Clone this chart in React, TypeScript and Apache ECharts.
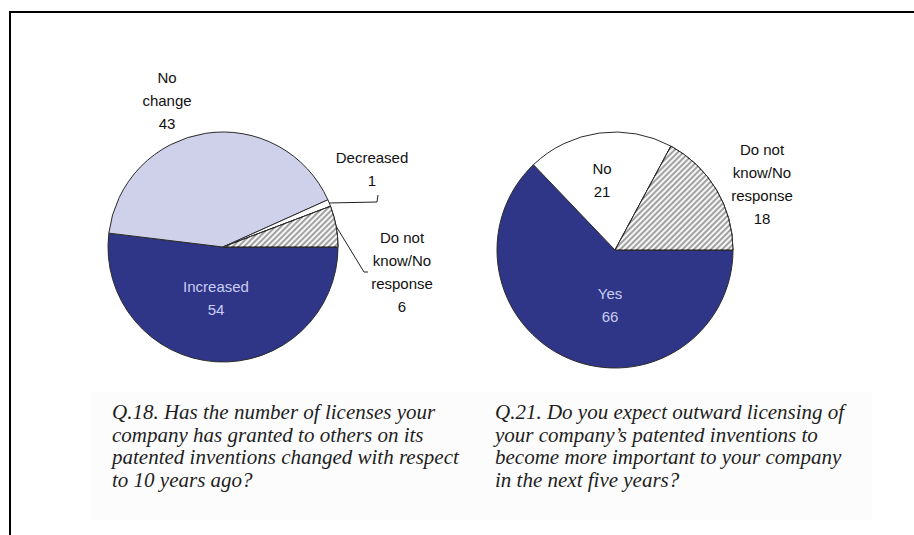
import React, { useEffect, useRef } from "react";
import * as echarts from "echarts";

// ---- data ----
const leftNames = ["Increased", "No change", "Decreased", "Do not know/No response"];
const leftLabels = ["Increased", "No\nchange", "Decreased", "Do not\nknow/No\nresponse"];
const leftValues = [54, 43, 1, 6];

const rightNames = ["Yes", "No", "Do not know/No response"];
const rightLabels = ["Yes", "No", "Do not\nknow/No\nresponse"];
const rightValues = [66, 21, 18];

const leftCaption = [
  "Q.18. Has the number of licenses your",
  "company has granted to others on its",
  "patented inventions changed with respect",
  "to 10 years ago?",
];
const rightCaption = [
  "Q.21. Do you expect outward licensing of",
  "your company\u2019s patented inventions to",
  "become more important to your company",
  "in the next five years?",
];

// ---- styles / layout ----
const DARK = "#2f3688";
const LAVENDER = "#cfd1ea";
const INSIDE_TEXT = "#c9cdf0";
const TEXT = "#111111";

const hatch = {
  symbol: "rect",
  symbolSize: 1,
  color: "rgba(255,255,255,0.9)",
  dashArrayX: [1, 0],
  dashArrayY: [2, 2],
  rotation: -Math.PI / 4,
};

const leftStyles = [
  { color: DARK, decal: "none" },
  { color: LAVENDER, decal: "none" },
  { color: "#ffffff", decal: "none" },
  { color: "#a2a2a2", decal: hatch },
];
const rightStyles = [
  { color: DARK, decal: "none" },
  { color: "#ffffff", decal: "none" },
  { color: "#a2a2a2", decal: hatch },
];

const leftLabelPos = [
  [216, 298],
  [167, 100],
  [372, 169],
  [402, 272],
];
const rightLabelPos = [
  [610, 305],
  [602, 180],
  [762, 184],
];

const labelFont = {
  fontFamily: "Liberation Sans, Arial, sans-serif",
  fontSize: 15,
  lineHeight: 23,
};

export default function App() {
  const ref = useRef<HTMLDivElement>(null);

  useEffect(() => {
    if (!ref.current) return;
    const chart = echarts.init(ref.current, undefined, { renderer: "svg" });

    const leftData = leftNames.map((name, i) => ({
      name,
      value: leftValues[i],
      itemStyle: leftStyles[i],
      label: {
        position: i === 0 ? "inside" : "outside",
        color: i === 0 ? INSIDE_TEXT : TEXT,
      },
      labelLine: { show: i === 2 || i === 3 },
    }));

    const rightData = rightNames.map((name, i) => ({
      name,
      value: rightValues[i],
      itemStyle: rightStyles[i],
      label: {
        position: i === 2 ? "outside" : "inside",
        color: i === 0 ? INSIDE_TEXT : TEXT,
      },
      labelLine: { show: false },
    }));

    const captionStyle = {
      fontFamily: "Liberation Serif, Times New Roman, serif",
      fontStyle: "italic",
      fontSize: 21,
      lineHeight: 22.5,
      fill: "#1e1e1e",
    };

    const option: any = {
      animation: false,
      backgroundColor: "#ffffff",
      graphic: [
        {
          type: "rect",
          z: -10,
          shape: { x: 90, y: 392, width: 782, height: 128 },
          style: { fill: "#fcfcfc" },
          silent: true,
        },
        {
          type: "line",
          shape: { x1: 10, y1: 12, x2: 914, y2: 12 },
          style: { stroke: "#000", lineWidth: 2 },
        },
        {
          type: "line",
          shape: { x1: 10, y1: 11, x2: 10, y2: 535 },
          style: { stroke: "#000", lineWidth: 2 },
        },
        {
          type: "text",
          x: 112,
          y: 401,
          style: { ...captionStyle, text: leftCaption.join("\n"), verticalAlign: "top", align: "left" },
        },
        {
          type: "text",
          x: 495,
          y: 401,
          style: { ...captionStyle, text: rightCaption.join("\n"), verticalAlign: "top", align: "left" },
        },
      ],
      series: [
        {
          type: "pie",
          center: [223, 247],
          radius: 115,
          startAngle: 0,
          clockwise: true,
          avoidLabelOverlap: false,
          itemStyle: { borderColor: "#2a2a2a", borderWidth: 1 },
          label: {
            ...labelFont,
            formatter: (p: any) => `${leftLabels[p.dataIndex]}\n${p.value}`,
          },
          labelLine: { lineStyle: { color: "#222", width: 1 } },
          labelLayout: (p: any) => {
            const [x, y] = leftLabelPos[p.dataIndex];
            const res: any = { x, y, align: "center", verticalAlign: "middle" };
            if (p.labelLinePoints && p.dataIndex === 2) {
              res.labelLinePoints = [p.labelLinePoints[0], [377, 202], [378, 195]];
            }
            if (p.labelLinePoints && p.dataIndex === 3) {
              res.labelLinePoints = [p.labelLinePoints[0], [364, 272], [368, 272]];
            }
            return res;
          },
          emphasis: { disabled: true },
          data: leftData,
        },
        {
          type: "pie",
          center: [615, 250],
          radius: 118,
          startAngle: 0,
          clockwise: true,
          avoidLabelOverlap: false,
          itemStyle: { borderColor: "#2a2a2a", borderWidth: 1 },
          label: {
            ...labelFont,
            formatter: (p: any) => `${rightLabels[p.dataIndex]}\n${p.value}`,
          },
          labelLayout: (p: any) => {
            const [x, y] = rightLabelPos[p.dataIndex];
            return { x, y, align: "center", verticalAlign: "middle" };
          },
          emphasis: { disabled: true },
          data: rightData,
        },
      ],
    };

    chart.setOption(option);
    return () => chart.dispose();
  }, []);

  return (
    <div
      ref={ref}
      style={{ position: "fixed", left: 0, top: 0, width: 914, height: 535 }}
    />
  );
}
